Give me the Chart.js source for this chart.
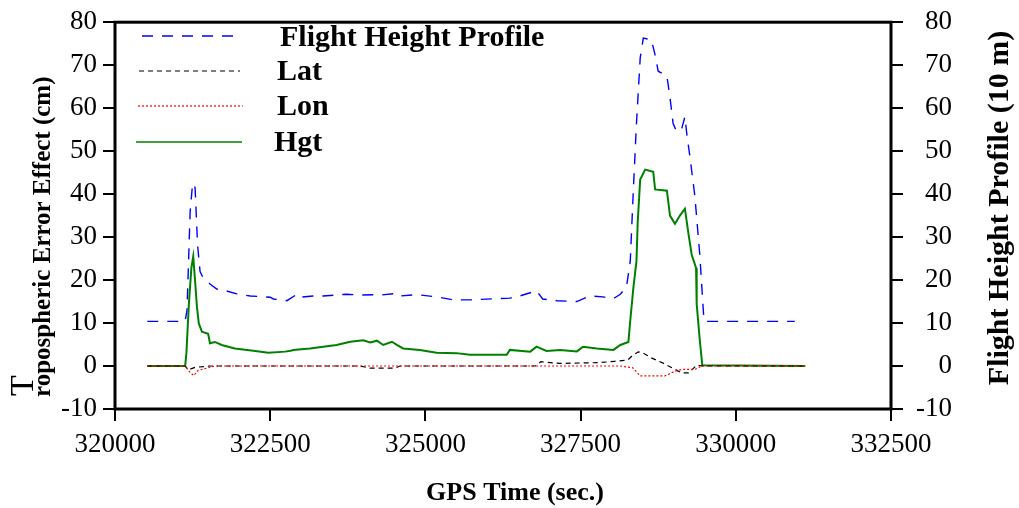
<!DOCTYPE html>
<html>
<head>
<meta charset="utf-8">
<script src="https://cdn.jsdelivr.net/npm/chart.js@4.4.1/dist/chart.umd.min.js"></script>
<style>
  html, body { margin:0; padding:0; background:#fff; }
  #wrap { width:1019px; height:508px; }
</style>
</head>
<body>
<div id="wrap"><canvas id="chart" width="1019" height="508"></canvas></div>
<script>
// axis ranges / ticks
const xMin = 320000, xMax = 332500, xStep = 2500;
const yMin = -10, yMax = 80, yStep = 10;

// Flight height profile (10 m), right axis
const heightTime = [320520, 321020, 321130, 321160, 321210, 321250, 321290, 321330, 321370, 321420,
  321530, 321640, 321740, 321960, 322180, 322500, 322550, 322770, 322930, 322980,
  323190, 323350, 323730, 323950, 324160, 324270, 324540, 324590, 324860, 325180,
  325450, 325720, 326360, 326520, 326790, 326890, 327120, 327440, 327650, 327860,
  328020, 328140, 328240, 328300, 328350, 328400, 328460, 328510, 328640, 328700,
  328750, 328890, 328940, 328990, 329050, 329130, 329180, 329210, 329260, 329340,
  329420, 329480, 329500, 330950];
const heightVal = [10.4, 10.4, 10.4, 13, 35.8, 42.5, 41.5, 28.2, 22, 20.5,
  19.1, 17.9, 17.7, 16.8, 16.3, 16.0, 15.6, 15.2, 16.7, 16.0,
  16.3, 16.3, 16.7, 16.5, 16.6, 16.5, 16.9, 16.3, 16.6, 16.1,
  15.4, 15.4, 15.8, 16.3, 17.5, 15.6, 15.2, 15.0, 16.3, 16.1,
  15.6, 16.7, 18.5, 24.4, 41.1, 56.4, 71.7, 76.3, 75.9, 72.4,
  68.6, 67.5, 62.5, 56.4, 54.5, 55.3, 58.0, 54.1, 48.8, 39.6,
  25.9, 12.2, 10.4, 10.4];

// Hgt (cm)
const hgtTime = [320520, 321130, 321150, 321190, 321230, 321260, 321290, 321320, 321350, 321400,
  321500, 321530, 321610, 321720, 321930, 322260, 322470, 322740, 322850, 322870,
  323140, 323570, 323790, 324000, 324110, 324220, 324320, 324460, 324540, 324640,
  324910, 325180, 325500, 325720, 326310, 326360, 326690, 326790, 326950, 327170,
  327440, 327540, 327760, 328030, 328140, 328270, 328300, 328350, 328400, 328420,
  328460, 328540, 328670, 328700, 328890, 328940, 329020, 329100, 329180, 329240,
  329290, 329360, 329370, 329420, 329460, 331120];
const hgtVal = [0, 0, 3.0, 14.4, 22.8, 25.5, 19.8, 13.7, 9.9, 8.0,
  7.5, 5.3, 5.6, 4.9, 4.1, 3.5, 3.1, 3.35, 3.6, 3.75,
  4.1, 4.9, 5.65, 6.0, 5.5, 5.9, 4.9, 5.65, 4.9, 4.1,
  3.75, 3.1, 3.0, 2.6, 2.6, 3.75, 3.35, 4.5, 3.5, 3.75,
  3.4, 4.5, 4.1, 3.75, 4.9, 5.6, 10.6, 18.2, 24.4, 33.5,
  43.4, 45.7, 45.2, 41.1, 40.8, 35.0, 33.1, 35.0, 36.6, 30.5,
  25.9, 22.8, 14.4, 6.0, 0.2, 0];

// Lat (cm)
const latTime = [320520, 321130, 321180, 321290, 321530, 323950, 324110, 324510, 324590, 326770,
  326860, 327170, 327810, 328050, 328260, 328340, 328430, 328510, 328640, 328810,
  328970, 329130, 329240, 329370, 329460, 331120];
const latVal = [0, 0, -0.9, -0.3, 0, 0, -0.5, -0.5, 0, 0,
  1.0, 0.6, 0.8, 1.1, 1.4, 2.5, 3.3, 3.0, 1.9, 0.8,
  -0.4, -1.6, -1.6, 0.2, 0, 0];

// Lon (cm)
const lonTime = [320520, 321130, 321210, 321270, 321340, 321450, 321610, 328140, 328340, 328460,
  328860, 329020, 329130, 329340, 329450, 331120];
const lonVal = [0, 0, -1.5, -2.2, -1.0, -0.6, 0, 0, -0.4, -2.3,
  -2.3, -1.2, -0.8, -0.8, 0, 0];

const toPts = (t, v) => t.map((x, i) => ({ x, y: v[i] }));

const serif = '"Liberation Serif", "Times New Roman", serif';

// frame around the plot area
const framePlugin = {
  id: 'frame',
  afterDatasetsDraw(chart) {
    const { ctx, chartArea: a } = chart;
    ctx.save();
    ctx.strokeStyle = '#000';
    ctx.lineWidth = 3;
    ctx.strokeRect(a.left, a.top, a.right - a.left, a.bottom - a.top);
    ctx.restore();
  }
};

// legend in the top-left corner + axis titles
const legendSpots = [
  { x1:142, x2:237, y:36, tx:280, ty:46 },
  { x1:139, x2:240, y:71, tx:277, ty:80 },
  { x1:138, x2:243, y:106, tx:277, ty:115 },
  { x1:136, x2:242, y:142, tx:274, ty:151 }
];
const textPlugin = {
  id: 'texts',
  afterDraw(chart) {
    const ctx = chart.ctx;
    ctx.save();
    chart.data.datasets.forEach((ds, i) => {
      const s = legendSpots[i];
      ctx.strokeStyle = ds.borderColor;
      ctx.lineWidth = Math.min(ds.borderWidth, 1.5);
      ctx.setLineDash(ds.borderDash || []);
      ctx.beginPath();
      ctx.moveTo(s.x1, s.y);
      ctx.lineTo(s.x2, s.y);
      ctx.stroke();
      ctx.setLineDash([]);
      ctx.fillStyle = '#000';
      ctx.font = 'bold 30px ' + serif;
      ctx.textAlign = 'left';
      ctx.textBaseline = 'alphabetic';
      ctx.fillText(ds.label, s.tx, s.ty);
    });

    ctx.fillStyle = '#000';
    // x title
    ctx.font = 'bold 26px ' + serif;
    ctx.textAlign = 'center';
    ctx.textBaseline = 'middle';
    ctx.fillText('GPS Time (sec.)', 515, 493);

    // right title
    ctx.save();
    ctx.translate(1000, 208);
    ctx.rotate(-Math.PI / 2);
    ctx.font = 'bold 30px ' + serif;
    ctx.fillText('Flight Height Profile (10 m)', 0, 0);
    ctx.restore();

    // left title, with the raised "T"
    ctx.save();
    ctx.translate(50, 397);
    ctx.rotate(-Math.PI / 2);
    ctx.textAlign = 'left';
    ctx.textBaseline = 'alphabetic';
    ctx.font = 'bold 25px ' + serif;
    ctx.fillText('ropospheric Error Effect (cm)', 0, 0);
    ctx.font = '34px ' + serif;
    ctx.fillText('T', 1, -17);
    ctx.restore();

    ctx.restore();
  }
};

const tickFont = { family: serif, size: 27 };

new Chart(document.getElementById('chart'), {
  type: 'line',
  data: {
    datasets: [
      { label:'Flight Height Profile', data: toPts(heightTime, heightVal), yAxisID:'y2',
        borderColor:'#0000ff', borderWidth:1.4, borderDash:[11, 9], order:4 },
      { label:'Lat', data: toPts(latTime, latVal), yAxisID:'y',
        borderColor:'#000000', borderWidth:1.2, borderDash:[5, 4], order:2 },
      { label:'Lon', data: toPts(lonTime, lonVal), yAxisID:'y',
        borderColor:'#ff0000', borderWidth:1.2, borderDash:[2, 2], order:1 },
      { label:'Hgt', data: toPts(hgtTime, hgtVal), yAxisID:'y',
        borderColor:'#008000', borderWidth:2, order:3 }
    ]
  },
  options: {
    responsive: false,
    devicePixelRatio: 1,
    animation: false,
    elements: { point: { radius:0 }, line: { tension:0, fill:false } },
    layout: { padding: { top:17, right:67, left:0, bottom:0 } },
    plugins: { legend: { display:false }, tooltip: { enabled:false } },
    scales: {
      x: {
        type:'linear', min:xMin, max:xMax,
        afterBuildTicks: s => { s.ticks = []; for (let v = xMin; v <= xMax; v += xStep) s.ticks.push({ value:v }); },
        afterFit: s => { s.height = 99; },
        grid: { drawOnChartArea:false, drawTicks:true, tickLength:12, color:'#000', lineWidth:2 },
        border: { display:false },
        ticks: { color:'#000', font:tickFont, padding:8, autoSkip:false, maxRotation:0, callback: v => String(v) }
      },
      y: {
        position:'left', min:yMin, max:yMax,
        ticks: { stepSize:yStep, color:'#000', font:tickFont, padding:6 },
        afterFit: s => { s.width = 115; },
        grid: { drawOnChartArea:false, drawTicks:true, tickLength:12, color:'#000', lineWidth:2 },
        border: { display:false }
      },
      y2: {
        position:'right', min:yMin, max:yMax,
        ticks: { stepSize:yStep, color:'#000', font:tickFont, padding:6, crossAlign:'far' },
        afterFit: s => { s.width = 61; },
        grid: { drawOnChartArea:false, drawTicks:true, tickLength:12, color:'#000', lineWidth:2 },
        border: { display:false }
      }
    }
  },
  plugins: [framePlugin, textPlugin]
});
</script>
</body>
</html>
